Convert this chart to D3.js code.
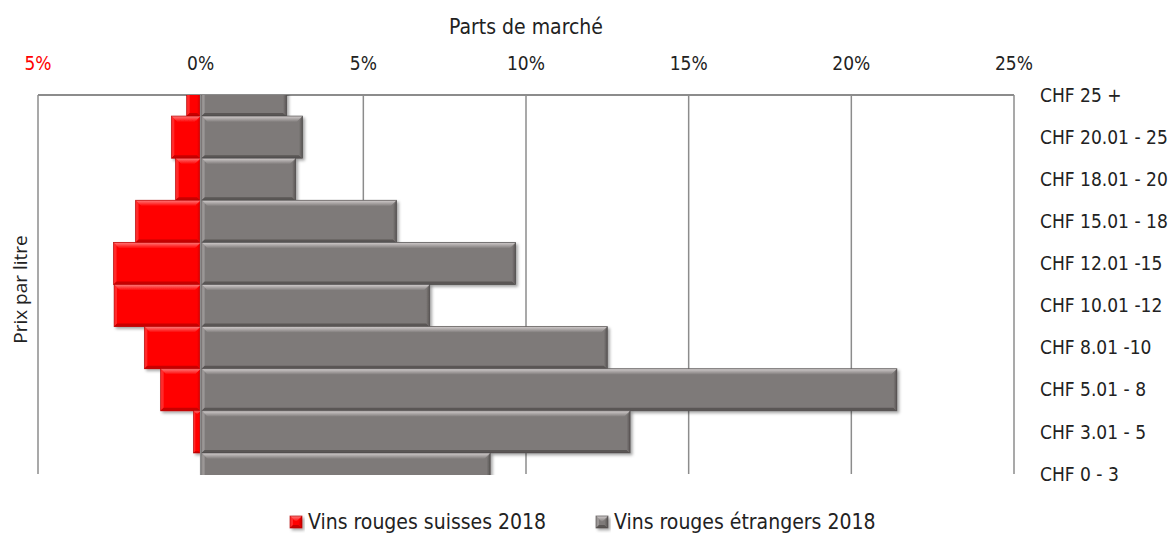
<!DOCTYPE html>
<html>
<head>
<meta charset="utf-8">
<script src="https://cdn.jsdelivr.net/npm/d3@7"></script>
<style>
  body { margin: 0; background: #fff; }
  svg text { font-family: "Liberation Sans Narrow", "DejaVu Sans Condensed", sans-serif; fill: #222; }
</style>
</head>
<body>
<svg id="chart"></svg>
<script>
// price classes, top to bottom
const categories = ["CHF 25 +", "CHF 20.01 - 25", "CHF 18.01 - 20", "CHF 15.01 - 18", "CHF 12.01 -15",
  "CHF 10.01 -12", "CHF 8.01 -10", "CHF 5.01 - 8", "CHF 3.01 - 5", "CHF 0 - 3"];
// market share in %, swiss wines are drawn to the left
const suisses = [0.43, 0.9, 0.77, 2.0, 2.68, 2.66, 1.73, 1.23, 0.22, 0];
const etrangers = [2.64, 3.13, 2.92, 6.02, 9.68, 7.04, 12.5, 21.4, 13.2, 8.9];
const tickValues = [-5, 0, 5, 10, 15, 20, 25];
const tickLabels = ["5%", "0%", "5%", "10%", "15%", "20%", "25%"];
const seriesNames = ["Vins rouges suisses 2018", "Vins rouges étrangers 2018"];

const settings = {
  width: 1173,
  height: 536,
  plot: { left: 38, right: 1014, top: 95, bottom: 474 },
  red: { base: "#ff0000", light: "#ff7a7a", dark: "#c80000", line: "#b00000" },
  grey: { base: "#7e7a79", light: "#d2cdcd", dark: "#5a5655", line: "#4e4a4a" },
  gridColor: "#8c8c8c"
};
const p = settings.plot;

const svg = d3.select("#chart")
  .attr("width", settings.width)
  .attr("height", settings.height);

const defs = svg.append("defs");
defs.append("clipPath").attr("id", "plotClip")
  .append("rect")
  .attr("x", p.left).attr("y", p.top)
  .attr("width", p.right - p.left).attr("height", p.bottom - p.top + 1);

const shadow = defs.append("filter").attr("id", "shadow")
  .attr("x", "-10%").attr("y", "-20%").attr("width", "130%").attr("height", "160%");
shadow.append("feDropShadow")
  .attr("dx", 2).attr("dy", 2).attr("stdDeviation", 1.6)
  .attr("flood-color", "#000").attr("flood-opacity", 0.35);

// gradients for the bevel strips
[["red", settings.red], ["grey", settings.grey]].forEach(([name, c]) => {
  let top = defs.append("linearGradient").attr("id", name + "Top")
    .attr("x1", 0).attr("y1", 0).attr("x2", 0).attr("y2", 1);
  top.append("stop").attr("offset", "0%").attr("stop-color", c.light);
  top.append("stop").attr("offset", "100%").attr("stop-color", c.base);
  let right = defs.append("linearGradient").attr("id", name + "Right")
    .attr("x1", 0).attr("y1", 0).attr("x2", 1).attr("y2", 0);
  right.append("stop").attr("offset", "0%").attr("stop-color", c.base);
  right.append("stop").attr("offset", "100%").attr("stop-color", c.dark);
});

// scales
const xScale = d3.scaleLinear()
  .domain([-5, 25])
  .range([p.left, p.right]);
const yScale = d3.scalePoint()
  .domain(categories)
  .range([p.top, p.bottom]);
const band = yScale.step();

// grid lines
svg.append("g").selectAll("line")
  .data(tickValues.filter(d => d !== 0))
  .enter().append("line")
  .attr("x1", d => xScale(d)).attr("x2", d => xScale(d))
  .attr("y1", p.top).attr("y2", p.bottom)
  .attr("stroke", settings.gridColor).attr("stroke-width", 1.5);

// top axis line
svg.append("line")
  .attr("x1", p.left).attr("x2", p.right)
  .attr("y1", p.top).attr("y2", p.top)
  .attr("stroke", settings.gridColor).attr("stroke-width", 2);

// bevelled bar
function bevelBar(g, x0, y0, w, h, name, c) {
  if (w <= 0) return;
  let b = Math.min(6, w / 2, h / 2);
  let bar = g.append("g").attr("filter", "url(#shadow)");
  bar.append("rect").attr("x", x0).attr("y", y0).attr("width", w).attr("height", h)
    .attr("fill", c.base);
  let pts = a => a.map(q => q.join(",")).join(" ");
  bar.append("polygon")
    .attr("points", pts([[x0, y0], [x0 + w, y0], [x0 + w - b, y0 + b], [x0 + b, y0 + b]]))
    .attr("fill", "url(#" + name + "Top)");
  bar.append("polygon")
    .attr("points", pts([[x0, y0], [x0 + b * 0.5, y0 + b * 0.5], [x0 + b * 0.5, y0 + h - b * 0.5], [x0, y0 + h]]))
    .attr("fill", c.light).attr("fill-opacity", 0.35);
  bar.append("polygon")
    .attr("points", pts([[x0 + w, y0], [x0 + w, y0 + h], [x0 + w - b * 0.6, y0 + h - b * 0.6], [x0 + w - b * 0.6, y0 + b]]))
    .attr("fill", "url(#" + name + "Right)");
  bar.append("polygon")
    .attr("points", pts([[x0, y0 + h], [x0 + b * 0.5, y0 + h - b * 0.5], [x0 + w - b * 0.6, y0 + h - b * 0.5], [x0 + w, y0 + h]]))
    .attr("fill", c.dark);
  bar.append("rect").attr("x", x0).attr("y", y0).attr("width", w).attr("height", h)
    .attr("fill", "none").attr("stroke", c.line).attr("stroke-width", 0.8).attr("stroke-opacity", 0.8);
}

const bars = svg.append("g").attr("clip-path", "url(#plotClip)");
categories.forEach((cat, i) => {
  let y0 = yScale(cat) - band / 2;
  bevelBar(bars, xScale(-suisses[i]), y0, xScale(0) - xScale(-suisses[i]), band, "red", settings.red);
  bevelBar(bars, xScale(0) + 1, y0, xScale(etrangers[i]) - xScale(0) - 1, band, "grey", settings.grey);
});

// vertical axis line at 0
svg.append("line")
  .attr("x1", xScale(0)).attr("x2", xScale(0))
  .attr("y1", p.top).attr("y2", p.bottom + 1)
  .attr("stroke", settings.gridColor).attr("stroke-width", 1.5);

// top tick labels
svg.append("g").selectAll("text")
  .data(tickValues)
  .enter().append("text")
  .attr("x", d => xScale(d))
  .attr("y", 70)
  .attr("text-anchor", "middle")
  .style("font-size", "19px")
  .style("fill", d => d < 0 ? "#ff0000" : "#222")
  .text((d, i) => tickLabels[i]);

// axis title
svg.append("text")
  .attr("x", (xScale(-5) + xScale(25)) / 2)
  .attr("y", 34)
  .attr("text-anchor", "middle")
  .style("font-size", "21px")
  .text("Parts de marché");

// category labels on the right
svg.append("g").selectAll("text")
  .data(categories)
  .enter().append("text")
  .attr("x", 1040)
  .attr("y", d => yScale(d))
  .attr("dy", "0.35em")
  .style("font-size", "19px")
  .text(d => d);

// y title
svg.append("text")
  .attr("transform", "translate(27," + ((p.top + p.bottom) / 2 + 5) + ") rotate(-90)")
  .attr("text-anchor", "middle")
  .style("font-family", "'Open Sans', 'Noto Sans', sans-serif")
  .style("font-size", "19px")
  .text("Prix par litre");

// legend
const legendItems = [
  { name: seriesNames[0], x: 290, key: "red", c: settings.red },
  { name: seriesNames[1], x: 596, key: "grey", c: settings.grey }
];
const legend = svg.append("g");
legendItems.forEach(it => {
  bevelBar(legend, it.x, 516, 12, 12, it.key, it.c);
  legend.append("text")
    .attr("x", it.x + 18)
    .attr("y", 522)
    .attr("dy", "0.35em")
    .style("font-size", "21px")
    .text(it.name);
});
</script>
</body>
</html>
